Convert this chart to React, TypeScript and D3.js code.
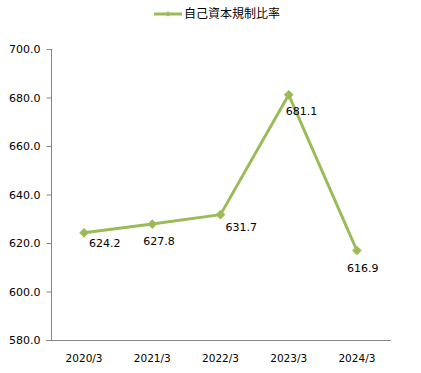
import React, { useRef, useEffect } from 'react';
import * as d3 from 'd3';

const categories = ['2020/3', '2021/3', '2022/3', '2023/3', '2024/3'];
const ratioValues = [624.2, 627.8, 631.7, 681.1, 616.9];
const yTicks = [580, 600, 620, 640, 660, 680, 700];
const seriesName = '自己資本規制比率';

// label offsets (dx, dy) relative to each point, mimicking the original placement
const labelOffsets = [[5, 10], [-9, 17], [5, 13], [-3, 16], [-10, 18]];

const App = () => {
  const svgRef = useRef<SVGSVGElement>(null);

  useEffect(() => {
    const svg = d3.select(svgRef.current);
    svg.selectAll('*').remove();

    const font = '"DejaVu Sans", Verdana, sans-serif';
    const green = '#9BBB59';
    const axisColor = '#868686';

    const xScale = d3.scaleBand().domain(categories).range([50, 391]);
    const yScale = d3.scaleLinear().domain([580, 700]).range([340, 49]);
    const cx = (c: string) => (xScale(c) as number) + xScale.bandwidth() / 2;

    // y axis
    const yAxis = svg.append('g')
      .attr('transform', 'translate(51.5,0)')
      .call(d3.axisLeft(yScale).tickValues(yTicks).tickSize(5).tickPadding(6).tickFormat(d3.format('.1f')));
    yAxis.select('.domain').attr('stroke', axisColor).attr('d', 'M0,49V340');
    yAxis.selectAll('line').attr('stroke', axisColor);
    yAxis.selectAll('text')
      .attr('font-family', font)
      .attr('font-size', '11px')
      .attr('fill', '#000');

    // x axis (no ticks)
    svg.append('line')
      .attr('x1', 46).attr('x2', 391)
      .attr('y1', 340.5).attr('y2', 340.5)
      .attr('stroke', axisColor);

    svg.append('g')
      .selectAll('text')
      .data(categories)
      .enter()
      .append('text')
      .attr('x', d => cx(d))
      .attr('y', 358)
      .attr('dy', '0.35em')
      .attr('text-anchor', 'middle')
      .attr('font-family', font)
      .attr('font-size', '10.5px')
      .attr('fill', '#000')
      .text(d => d);

    const points = categories.map((c, i) => ({ c, v: ratioValues[i] }));

    const line = d3.line<{ c: string; v: number }>()
      .x(d => cx(d.c))
      .y(d => yScale(d.v));

    svg.append('path')
      .datum(points)
      .attr('fill', 'none')
      .attr('stroke', green)
      .attr('stroke-width', 3)
      .attr('stroke-linejoin', 'round')
      .attr('d', line);

    const diamond = d3.symbol().type(d3.symbolDiamond2).size(60);

    svg.append('g')
      .selectAll('path')
      .data(points)
      .enter()
      .append('path')
      .attr('transform', d => `translate(${cx(d.c)},${yScale(d.v)})`)
      .attr('fill', green)
      .attr('d', diamond);

    // data labels
    svg.append('g')
      .selectAll('text')
      .data(points)
      .enter()
      .append('text')
      .attr('x', (d, i) => cx(d.c) + labelOffsets[i][0])
      .attr('y', (d, i) => yScale(d.v) + labelOffsets[i][1])
      .attr('dy', '0.35em')
      .attr('font-family', font)
      .attr('font-size', '11px')
      .attr('fill', '#000')
      .text(d => d.v.toFixed(1));

    // legend
    const legend = svg.append('g');
    legend.append('line')
      .attr('x1', 154).attr('x2', 182)
      .attr('y1', 14).attr('y2', 14)
      .attr('stroke', green)
      .attr('stroke-width', 3);
    legend.append('path')
      .attr('transform', 'translate(168,14)')
      .attr('fill', green)
      .attr('d', d3.symbol().type(d3.symbolDiamond2).size(20));
    legend.append('text')
      .attr('x', 184)
      .attr('y', 14)
      .attr('dy', '0.35em')
      .attr('font-family', '"Noto Sans CJK JP", sans-serif')
      .attr('font-size', '12px')
      .attr('fill', '#000')
      .text(seriesName);
  }, []);

  return (
    <svg ref={svgRef} width={421} height={373} style={{ position: 'absolute', left: 0, top: 0, background: '#fff' }} />
  );
};

export default App;
